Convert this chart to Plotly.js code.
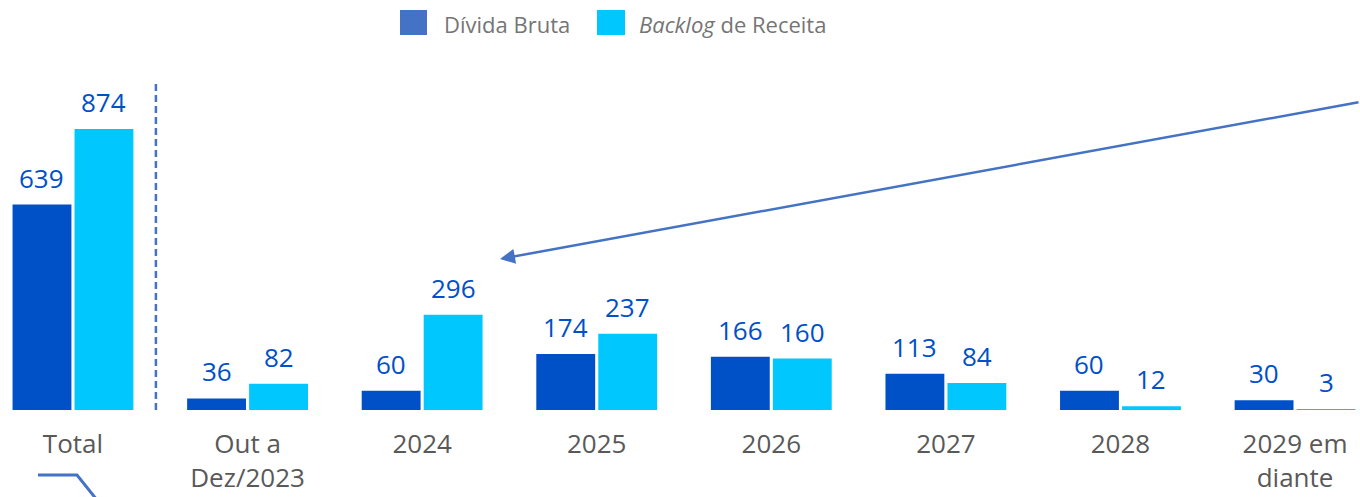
<!DOCTYPE html>
<html><head><meta charset="utf-8">
<script src="https://cdn.plot.ly/plotly-3.0.1.min.js"></script>
<style>html,body{margin:0;padding:0;background:#fff}#chart{width:1360px;height:497px}</style>
</head><body><div id="chart"></div>
<script>
const categories = ["Total", "Out a<br>Dez/2023", "2024", "2025", "2026", "2027", "2028", "2029 em<br>diante"];
const dividaBruta = [639, 36, 60, 174, 166, 113, 60, 30];
const backlogReceita = [874, 82, 296, 237, 160, 84, 12, 3];
const seriesNames = ["Dívida Bruta", "<i>Backlog</i> de Receita"];

const darkBlue = "#0050C8", cyan = "#00C8FF", legendBlue = "#4472C4", lineBlue = "#4472C4";
const labelColor = "#0050C8";
const FONT = "Open Sans, sans-serif";
const idx = categories.map((c, i) => i);

const traces = [
  {type: "bar", x: idx, y: dividaBruta, name: seriesNames[0], marker: {color: darkBlue}, hoverinfo: "none"},
  {type: "bar", x: idx, y: backlogReceita, name: seriesNames[1], marker: {color: cyan}, hoverinfo: "none"}
];

const annotations = [];
dividaBruta.forEach((v, i) => annotations.push({x: i, y: v, xref: "x", yref: "y", text: String(v), showarrow: false,
  xanchor: "center", yanchor: "bottom", xshift: -31, yshift: 7, font: {family: FONT, size: 26, color: labelColor}}));
backlogReceita.forEach((v, i) => annotations.push({x: i, y: v, xref: "x", yref: "y", text: String(v), showarrow: false,
  xanchor: "center", yanchor: "bottom", xshift: 31, yshift: 7, font: {family: FONT, size: 26, color: labelColor}}));

// legend (manual)
annotations.push({xref: "paper", yref: "paper", x: 442/1360, y: (410-24)/350, text: seriesNames[0], showarrow: false,
  xanchor: "left", yanchor: "middle", font: {family: FONT, size: 22, color: "#757575"}});
annotations.push({xref: "paper", yref: "paper", x: 637/1360, y: (410-24)/350, text: seriesNames[1], showarrow: false,
  xanchor: "left", yanchor: "middle", font: {family: FONT, size: 22, color: "#757575"}});

// arrow
annotations.push({xref: "paper", yref: "paper", x: 500/1360, y: (410-259)/350, ax: 870, ay: -157, axref: "pixel", ayref: "pixel",
  text: "", showarrow: true, arrowhead: 2, arrowsize: 1.2, arrowwidth: 2.5, arrowcolor: lineBlue});

const shapes = [
  {type: "rect", xref: "paper", yref: "paper", x0: 400/1360, x1: 427/1360, y0: (410-35)/350, y1: (410-10)/350,
   fillcolor: legendBlue, line: {width: 0}},
  {type: "rect", xref: "paper", yref: "paper", x0: 597/1360, x1: 625/1360, y0: (410-35)/350, y1: (410-10)/350,
   fillcolor: cyan, line: {width: 0}},
  {type: "line", xref: "x", yref: "paper", x0: 0.475, x1: 0.475, y0: 0, y1: (410-82)/350,
   line: {color: lineBlue, width: 2.5, dash: "7px,4px"}},
  {type: "path", xref: "paper", yref: "paper",
   path: `M ${38/1360} ${(410-475)/350} L ${77/1360} ${(410-475)/350} L ${97/1360} ${(410-500)/350}`,
   line: {color: lineBlue, width: 3}}
];

const layout = {
  width: 1360, height: 497,
  margin: {l: 0, r: 0, t: 60, b: 87},
  paper_bgcolor: "#fff", plot_bgcolor: "#fff",
  showlegend: false,
  barmode: "group", bargap: 0.29, bargroupgap: 0.05,
  xaxis: {type: "linear", range: [-0.418, 7.372], tickvals: idx, ticktext: categories,
    showgrid: false, zeroline: false, showline: false, ticks: "", ticklabelstandoff: 16,
    tickfont: {family: FONT, size: 26, color: "#595959"}, fixedrange: true},
  yaxis: {range: [0, 350/0.3215], visible: false, showgrid: false, zeroline: false, fixedrange: true},
  annotations: annotations,
  shapes: shapes,
  font: {family: FONT}
};

Plotly.newPlot("chart", traces, layout, {displayModeBar: false, staticPlot: true});
</script>
</body></html>
